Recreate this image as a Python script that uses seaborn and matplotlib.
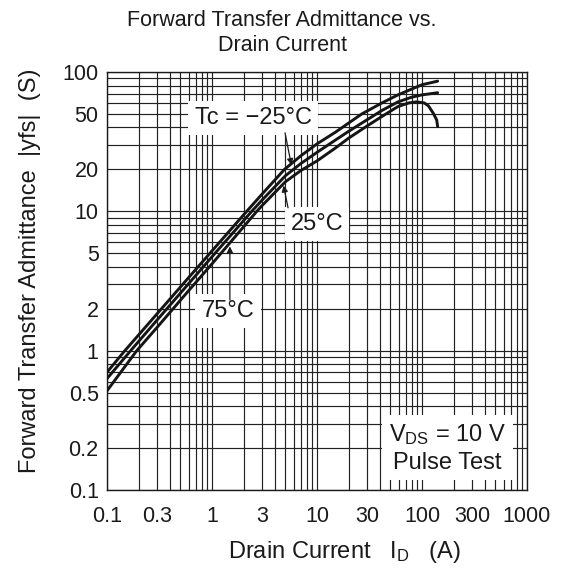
import numpy as np
import pandas as pd
import matplotlib
matplotlib.use("Agg")
import matplotlib.pyplot as plt
import seaborn as sns
from matplotlib.ticker import FixedLocator, FixedFormatter, LogLocator, NullFormatter

# ---- data ----
id_m25 = [0.1, 0.148, 0.3, 0.6, 1, 2.14, 3, 4.9, 7, 10, 15, 20, 26.7, 41.6, 59, 80, 100, 141]
yfs_m25 = [0.70, 1.0, 1.84, 3.35, 5.2, 10, 13.3, 20, 25, 30.5, 37, 43, 50, 60, 68.5, 75.5, 81, 86]

id_25 = [0.1, 0.168, 0.3, 0.6, 1, 2.39, 3, 5, 7, 10, 15, 20, 26.7, 41.6, 59, 80, 100, 141]
yfs_25 = [0.63, 1.0, 1.66, 3.03, 4.72, 10, 12.05, 18, 22, 26.5, 32.5, 37.5, 43, 53, 61, 66, 68.5, 71]

id_75 = [0.1, 0.192, 0.3, 0.6, 1, 2.67, 3, 5, 7, 10, 15, 20, 30, 41.6, 59, 75, 89, 105, 115, 128, 138, 141]
yfs_75 = [0.515, 1.0, 1.47, 2.7, 4.2, 10, 11.0, 16.3, 19.6, 23, 28.5, 33.5, 41, 48, 56.5, 60, 61, 60, 57.2, 50.6, 45.3, 40.5]

series_names = ["Tc = \u221225\u00b0C", "25\u00b0C", "75\u00b0C"]

x_ticks = [0.1, 0.3, 1, 3, 10, 30, 100, 300, 1000]
x_tick_labels = ["0.1", "0.3", "1", "3", "10", "30", "100", "300", "1000"]
y_ticks = [0.1, 0.2, 0.5, 1, 2, 5, 10, 20, 50, 100]
y_tick_labels = ["0.1", "0.2", "0.5", "1", "2", "5", "10", "20", "50", "100"]

title_text = "Forward Transfer Admittance vs.\nDrain Current"
x_label = "Drain Current   $\\mathregular{I_D}$   (A)"
y_label = "Forward Transfer Admittance  |yfs|  (S)"
cond_text = "$\\mathregular{V_{DS}}$ = 10 V\nPulse Test"

df = pd.concat([
    pd.DataFrame({"id": id_m25, "yfs": yfs_m25, "series": series_names[0]}),
    pd.DataFrame({"id": id_25, "yfs": yfs_25, "series": series_names[1]}),
    pd.DataFrame({"id": id_75, "yfs": yfs_75, "series": series_names[2]}),
], ignore_index=True)

sns.set_theme(style="white")
plt.rcParams["font.family"] = ["Liberation Sans", "DejaVu Sans"]
plt.rcParams["mathtext.fontset"] = "custom"
plt.rcParams["mathtext.rm"] = "Liberation Sans"
plt.rcParams["mathtext.it"] = "Liberation Sans"

TXT = "#1a1a1a"
FS_TICK = 15.5
FS_TITLE = 15.5
FS_LABEL = 17
FS_NOTE = 17

fig = plt.figure(figsize=(5.63, 5.71), dpi=100)
fig.patch.set_facecolor("white")
ax = fig.add_axes([107 / 563, 1 - 490 / 571, 420 / 563, 418 / 571])
ax.set_xscale("log")
ax.set_yscale("log")

sns.lineplot(data=df, x="id", y="yfs", hue="series", palette=["#151515"] * 3,
             estimator=None, sort=False, legend=False, linewidth=2.1, ax=ax, zorder=4)

ax.set_xlim(0.1, 1000)
ax.set_ylim(0.1, 100)

ax.xaxis.set_major_locator(FixedLocator(x_ticks))
ax.xaxis.set_major_formatter(FixedFormatter(x_tick_labels))
ax.yaxis.set_major_locator(FixedLocator(y_ticks))
ax.yaxis.set_major_formatter(FixedFormatter(y_tick_labels))
ax.xaxis.set_minor_locator(LogLocator(base=10, subs=np.arange(2, 10)))
ax.yaxis.set_minor_locator(LogLocator(base=10, subs=np.arange(2, 10)))
ax.xaxis.set_minor_formatter(NullFormatter())
ax.yaxis.set_minor_formatter(NullFormatter())
ax.tick_params(which="both", length=0, labelsize=FS_TICK, colors=TXT)
ax.tick_params(axis="x", pad=11.5)
ax.tick_params(axis="y", pad=6)
ax.grid(True, which="both", color="#222222", linewidth=0.85)
ax.set_axisbelow(True)
for s in ax.spines.values():
    s.set_color("#1a1a1a")
    s.set_linewidth(1.0)

ax.set_xlabel(x_label, fontsize=FS_LABEL, color=TXT, va="center")
ax.xaxis.set_label_coords(0.564, -0.148)
ax.set_ylabel(y_label, fontsize=FS_LABEL, color=TXT, va="center")
ax.yaxis.set_label_coords(-0.183, 0.524)

fig.text(282 / 563, 1 - 33 / 571, title_text, ha="center", va="center",
         fontsize=FS_TITLE, color=TXT, linespacing=1.2)

box = dict(facecolor="white", edgecolor="none", pad=4.5)
ax.text(2.46, 46.8, series_names[0], ha="center", va="center", fontsize=FS_NOTE,
        color=TXT, bbox=box, zorder=5)
ax.text(10, 8.1, series_names[1], ha="center", va="center", fontsize=FS_NOTE,
        color=TXT, bbox=box, zorder=5)
ax.text(1.42, 1.93, series_names[2], ha="center", va="center", fontsize=FS_NOTE,
        color=TXT, bbox=box, zorder=5)
ax.text(175, 0.2, cond_text, ha="center", va="center", fontsize=FS_NOTE,
        color=TXT, linespacing=1.25,
        bbox=dict(facecolor="white", edgecolor="none", pad=5), zorder=5)

arrow = dict(arrowstyle="-|>", color="#1a1a1a", lw=0.9, mutation_scale=9, shrinkA=0, shrinkB=0)
ax.annotate("", xy=(5.7, 21.5), xytext=(4.96, 36.6), arrowprops=arrow, zorder=6)
ax.annotate("", xy=(4.8, 15.3), xytext=(5.3, 10.6), arrowprops=arrow, zorder=6)
ax.annotate("", xy=(1.48, 5.6), xytext=(1.48, 2.31), arrowprops=arrow, zorder=6)

fig.savefig("out.png", dpi=100)
